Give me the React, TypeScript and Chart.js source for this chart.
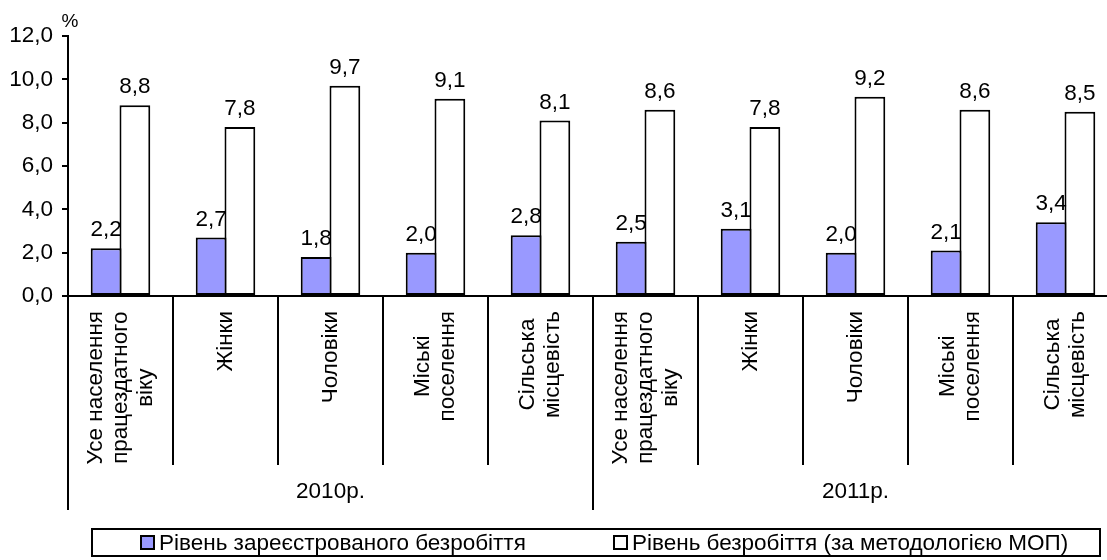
import React, { useEffect, useRef } from 'react';
import { Chart, registerables } from 'chart.js';

Chart.register(...registerables);

// ---- data ----
const categoryLines: string[][] = [
  ['Усе населення', 'працездатного', 'віку'],
  ['Жінки'],
  ['Чоловіки'],
  ['Міські', 'поселення'],
  ['Сільська', 'місцевість'],
  ['Усе населення', 'працездатного', 'віку'],
  ['Жінки'],
  ['Чоловіки'],
  ['Міські', 'поселення'],
  ['Сільська', 'місцевість'],
];
const yearLabels = ['2010р.', '2011р.'];
const categoriesPerYear = 5;
const registeredRate = [2.2, 2.7, 1.8, 2.0, 2.8, 2.5, 3.1, 2.0, 2.1, 3.4];
const iloRate = [8.8, 7.8, 9.7, 9.1, 8.1, 8.6, 7.8, 9.2, 8.6, 8.5];
const seriesNames = [
  'Рівень зареєстрованого безробіття',
  'Рівень безробіття (за методологією МОП)',
];
const seriesColors = ['#9999FF', '#FFFFFF'];
const yMin = 0;
const yMax = 12;
const yStep = 2;
const unitLabel = '%';

const FONT = '"Liberation Sans", Arial, sans-serif';
const FS = 22.5;

const fmt = (v: number) => v.toFixed(1).replace('.', ',');

const decorPlugin = {
  id: 'decor',
  afterDraw(chart: any) {
    const { ctx, chartArea, scales } = chart;
    const xs = scales.x;
    const n = categoryLines.length;
    const cw = xs.getPixelForValue(1) - xs.getPixelForValue(0);
    const x0 = xs.getPixelForValue(0) - cw / 2;
    const bottom = chartArea.bottom;
    ctx.save();
    ctx.strokeStyle = '#000';
    ctx.fillStyle = '#000';
    ctx.lineWidth = 2;

    // separators
    for (let i = 0; i <= n; i++) {
      const px = Math.round(x0 + i * cw);
      const isGroup = i % categoriesPerYear === 0;
      ctx.beginPath();
      ctx.moveTo(px, bottom);
      ctx.lineTo(px, bottom + (isGroup ? 214 : 169));
      ctx.stroke();
    }

    // category labels (rotated)
    ctx.font = `${FS}px ${FONT}`;
    const lineH = 25;
    for (let i = 0; i < n; i++) {
      const lines = categoryLines[i];
      const cx = xs.getPixelForValue(i);
      const maxW = Math.max(...lines.map((l) => ctx.measureText(l).width));
      ctx.save();
      ctx.translate(cx, bottom + 15);
      ctx.rotate(-Math.PI / 2);
      ctx.textAlign = 'center';
      ctx.textBaseline = 'middle';
      lines.forEach((l, j) => {
        ctx.fillText(l, -maxW / 2, (j - (lines.length - 1) / 2) * lineH);
      });
      ctx.restore();
    }

    // year labels
    ctx.textAlign = 'center';
    ctx.textBaseline = 'middle';
    yearLabels.forEach((yl, g) => {
      const cx = x0 + (g + 0.5) * categoriesPerYear * cw;
      ctx.fillText(yl, cx, bottom + 196);
    });

    // value labels
    ctx.textBaseline = 'alphabetic';
    chart.data.datasets.forEach((ds: any, di: number) => {
      const meta = chart.getDatasetMeta(di);
      meta.data.forEach((el: any, k: number) => {
        ctx.fillText(fmt(ds.data[k]), el.x, el.y - 12);
      });
    });

    // unit label
    ctx.font = `19px ${FONT}`;
    ctx.fillText(unitLabel, chartArea.left + 2, 27);

    // legend
    const lx = 92, ly = 529, lw = 1008, lh = 27;
    ctx.lineWidth = 2;
    ctx.strokeRect(lx, ly, lw, lh);
    ctx.font = `${FS}px ${FONT}`;
    ctx.textAlign = 'left';
    ctx.textBaseline = 'middle';
    const items = [
      { sx: 141, tx: 159 },
      { sx: 614, tx: 632 },
    ];
    items.forEach((it, i) => {
      ctx.fillStyle = seriesColors[i];
      ctx.fillRect(it.sx, ly + 7, 13, 13);
      ctx.strokeStyle = '#000';
      ctx.strokeRect(it.sx, ly + 7, 13, 13);
      ctx.fillStyle = '#000';
      ctx.fillText(seriesNames[i], it.tx, ly + lh / 2 + 1);
    });
    ctx.restore();
  },
};

export default function App() {
  const ref = useRef<HTMLCanvasElement | null>(null);
  useEffect(() => {
    if (!ref.current) return;
    const chart = new Chart(ref.current, {
      type: 'bar',
      data: {
        labels: categoryLines.map((l) => l.join(' ')),
        datasets: [
          {
            label: seriesNames[0],
            data: registeredRate,
            backgroundColor: seriesColors[0],
            borderColor: '#000',
            borderWidth: 2,
            borderSkipped: false,
          },
          {
            label: seriesNames[1],
            data: iloRate,
            backgroundColor: seriesColors[1],
            borderColor: '#000',
            borderWidth: 2,
            borderSkipped: false,
          },
        ],
      },
      options: {
        responsive: false,
        animation: false,
        layout: { padding: { left: 0, right: 12, top: 36, bottom: 264 } },
        plugins: { legend: { display: false }, tooltip: { enabled: false } },
        datasets: { bar: { categoryPercentage: 0.548, barPercentage: 1.07 } },
        scales: {
          x: {
            ticks: { display: false },
            grid: { display: false, drawTicks: false },
            border: { display: true, color: '#000', width: 2 },
            afterFit: (s: any) => {
              s.height = 0;
            },
          },
          y: {
            min: yMin,
            max: yMax,
            ticks: {
              stepSize: yStep,
              color: '#000',
              padding: 9,
              font: { size: FS, family: FONT },
              callback: (v: any) => fmt(Number(v)),
            },
            grid: { drawOnChartArea: false, drawTicks: true, tickLength: 6, color: '#000', lineWidth: 2 },
            border: { display: true, color: '#000', width: 2 },
            afterFit: (s: any) => {
              s.width = 68;
            },
          },
        },
      } as any,
      plugins: [decorPlugin],
    });
    return () => chart.destroy();
  }, []);
  return (
    <div style={{ position: 'absolute', left: 0, top: 0, width: 1107, height: 560, overflow: 'hidden', background: '#fff' }}>
      <canvas ref={ref} width={1130} height={560} style={{ display: 'block' }} />
    </div>
  );
}
